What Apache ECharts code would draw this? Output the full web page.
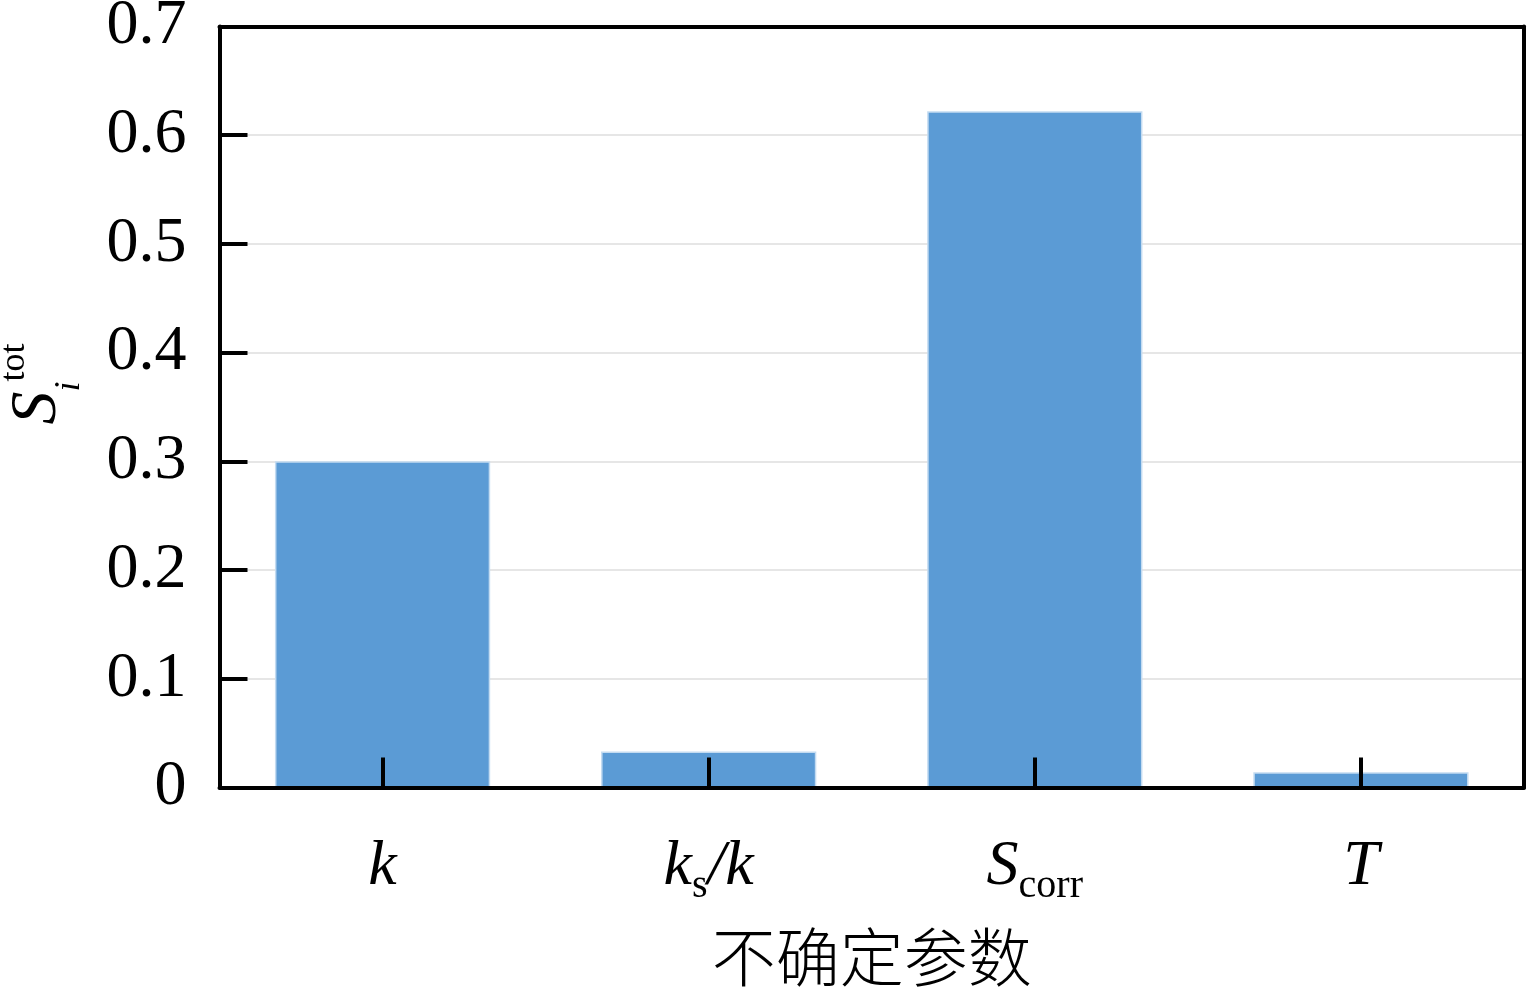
<!DOCTYPE html>
<html>
<head>
<meta charset="utf-8">
<script src="https://cdn.jsdelivr.net/npm/echarts@6/dist/echarts.min.js"></script>
<style>
html,body{margin:0;padding:0;background:#fff;}
#chart{width:1528px;height:992px;}
</style>
</head>
<body>
<div id="chart"></div>
<script>
// ---- data ----
const categories = ['k', 'ks/k', 'Scorr', 'T'];
const categoryLabels = ['{it|k}', '{it|k}{sub|s}{it|/k}', '{it|S}{sub|corr}', '{it|T}'];
const values = [0.300, 0.033, 0.622, 0.014];
const yTicks = ['0', '0.1', '0.2', '0.3', '0.4', '0.5', '0.6', '0.7'];
const xAxisTitle = '不确定参数';

const serif = 'Liberation Serif, Times New Roman, Noto Sans CJK SC, serif';
const chart = echarts.init(document.getElementById('chart'), null, {renderer: 'canvas'});

const frameLine = {show: true, onZero: false, lineStyle: {color: '#000', width: 4}};
const option = {
  backgroundColor: '#ffffff',
  animation: false,
  grid: {
    left: 219.5, right: 4, top: 26.5, bottom: 204.5,
    containLabel: false,
    outerBoundsMode: 'none',
    show: false
  },
  xAxis: [{
    type: 'category',
    data: categories,
    boundaryGap: true,
    z: 5,
    axisLine: frameLine,
    axisTick: {show: true, inside: true, length: 30, alignWithLabel: true, lineStyle: {color: '#000', width: 4}},
    axisLabel: {
      margin: 48,
      formatter: function (v, i) { return categoryLabels[i]; },
      rich: {
        it: {fontFamily: serif, fontStyle: 'italic', fontSize: 64, lineHeight: 64, color: '#000'},
        sub: {fontFamily: serif, fontSize: 40, lineHeight: 64, padding: [38, 0, 0, 0], color: '#000'}
      }
    },
    splitLine: {show: false},
    name: xAxisTitle,
    nameLocation: 'middle',
    nameGap: 145,
    nameTextStyle: {fontFamily: serif, fontSize: 64, fontWeight: 300, lineHeight: 64, color: '#000'}
  }, {
    type: 'category',
    data: categories,
    position: 'top',
    z: 5,
    axisLine: frameLine,
    axisTick: {show: false},
    axisLabel: {show: false},
    splitLine: {show: false}
  }],
  yAxis: [{
    type: 'value',
    min: 0, max: 0.7, interval: 0.1,
    z: 0,
    axisLine: frameLine,
    axisTick: {show: true, inside: true, length: 28, lineStyle: {color: '#000', width: 4}},
    axisLabel: {
      margin: 33,
      fontFamily: serif, fontSize: 64, color: '#000',
      formatter: function (v) { return yTicks[Math.round(v * 10)]; }
    },
    splitLine: {show: true, lineStyle: {color: '#e6e6e6', width: 2}},
    name: '{S|S}{i|i}{tot|tot}',
    nameLocation: 'middle',
    nameRotate: 90,
    nameGap: 142,
    nameTextStyle: {
      rich: {
        S: {fontFamily: serif, fontStyle: 'italic', fontSize: 66, lineHeight: 80, color: '#000', padding: [0, 0, 0, 46]},
        i: {fontFamily: serif, fontStyle: 'italic', fontSize: 36, lineHeight: 80, color: '#000', padding: [64, 0, 0, 0]},
        tot: {fontFamily: serif, fontSize: 36, lineHeight: 80, color: '#000', padding: [0, 0, 46, 0]}
      }
    }
  }, {
    type: 'value',
    min: 0, max: 0.7, interval: 0.1,
    position: 'right',
    z: 5,
    axisLine: frameLine,
    axisTick: {show: false},
    axisLabel: {show: false},
    splitLine: {show: false}
  }],
  series: [{
    type: 'bar',
    data: values,
    xAxisIndex: 0,
    yAxisIndex: 0,
    barWidth: '66%',
    itemStyle: {color: '#5B9BD5', borderColor: '#c3dbf1', borderWidth: 1.5},
    z: 2
  }]
};
chart.setOption(option);
</script>
</body>
</html>
